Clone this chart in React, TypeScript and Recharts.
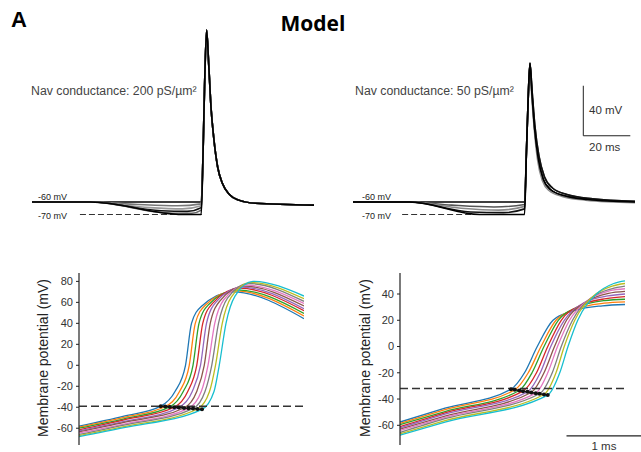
import { ComposedChart, Line, XAxis, YAxis, ReferenceLine } from 'recharts';

type Pt = [number, number];

// matplotlib default cycle, used for the ten phase-plot traces
const tab10 = ['#1f77b4', '#ff7f0e', '#2ca02c', '#d62728', '#9467bd', '#8c564b', '#e377c2', '#7f7f7f', '#bcbd22', '#17becf'];

// --- top panels: full APs (time in ms, voltage in mV) ---
const preLeft1: Pt[] = [[0, -60], [25, -60], [72, -60]];
const preLeft2: Pt[] = [[0, -60], [25, -60], [45, -62], [62, -63], [72, -61.5]];
const preLeft3: Pt[] = [[0, -60], [25, -60], [50, -64.5], [64, -65.5], [72, -63]];
const preLeft4: Pt[] = [[0, -60], [25, -60], [55, -67], [66, -67.5], [72, -64.5]];
const preLeft5: Pt[] = [[0, -60], [25, -60], [60, -69], [68, -69], [72, -66.5]];
const preLeft6: Pt[] = [[0, -60], [25, -60], [64, -70], [72, -70]];
const spikeLeft: Pt[] = [[72.8, -20], [73.4, 30], [74.3, 77.5], [75.2, 50], [76.2, 15], [77.3, -8], [79, -32], [81, -45], [84, -54], [88, -58.5], [95, -61], [120, -62.5]];

const preRight1: Pt[] = [[0, -60], [24, -60], [73, -60]];
const preRight2: Pt[] = [[0, -60], [24, -60], [42, -62.5], [60, -64], [73, -62]];
const preRight3: Pt[] = [[0, -60], [24, -60], [46, -65], [62, -66.5], [73, -63.5]];
const preRight4: Pt[] = [[0, -60], [24, -60], [50, -68], [64, -68.5], [73, -65.5]];
const preRight5: Pt[] = [[0, -60], [24, -60], [54, -70], [73, -70]];
const spikeRightA: Pt[] = [[73.8, -20], [74.5, 20], [75.3, 51], [76.1, 28], [77.2, 0], [78.8, -25], [81, -42], [84, -50], [90, -55], [100, -58], [120, -60]];
const spikeRightB: Pt[] = [[73.8, -20], [74.5, 20], [75.3, 51], [76.2, 29], [77.4, 1], [79.1, -23], [81.5, -40], [85, -49], [91, -54], [102, -57.5], [120, -59.5]];
const spikeRightC: Pt[] = [[73.8, -20], [74.5, 20], [75.3, 51], [76, 27], [77.1, -1], [78.6, -27], [80.6, -43], [83.5, -51], [89, -55.5], [99, -58.5], [120, -60.5]];

const restLine: Pt[] = [[20.4, -70], [72.3, -70]];
const restLineRight: Pt[] = [[20.9, -70], [72.3, -70]];
const scaleMv = 40;
const scaleMs = 20;
const scaleOrigin: Pt = [98, -7];

// --- bottom panels: zoom on AP onset, ten traces each ---
const lowL0: Pt[] = [[0, -58], [0.6, -48.5], [1.09, -39], [1.28, -25], [1.42, 0], [1.5, 40], [1.63, 56], [2.05, 70], [3, 44.5]];
const lowL1: Pt[] = [[0, -59], [0.6, -49.7], [1.15, -39.3], [1.34, -25], [1.47, 0], [1.55, 40], [1.68, 57], [2.08, 71], [3, 47]];
const lowL2: Pt[] = [[0, -60], [0.6, -51], [1.21, -39.7], [1.39, -25], [1.52, 0], [1.6, 40], [1.73, 58], [2.11, 72], [3, 49.5]];
const lowL3: Pt[] = [[0, -61.5], [0.6, -52], [1.27, -40], [1.45, -25], [1.57, 0], [1.65, 40], [1.78, 59], [2.14, 73.5], [3, 52]];
const lowL4: Pt[] = [[0, -62.5], [0.6, -53.5], [1.33, -40.3], [1.51, -25], [1.62, 0], [1.7, 40], [1.83, 60.5], [2.17, 74.5], [3, 54]];
const lowL5: Pt[] = [[0, -63.5], [0.6, -54.5], [1.4, -40.7], [1.57, -25], [1.67, 0], [1.75, 40], [1.88, 61.5], [2.2, 75.5], [3, 56.5]];
const lowL6: Pt[] = [[0, -64.5], [0.6, -56], [1.46, -41], [1.63, -25], [1.72, 0], [1.81, 40], [1.93, 62.5], [2.23, 76.5], [3, 59]];
const lowL7: Pt[] = [[0, -66], [0.6, -57], [1.52, -41.3], [1.68, -25], [1.77, 0], [1.86, 40], [1.98, 64], [2.26, 78], [3, 61]];
const lowL8: Pt[] = [[0, -67], [0.6, -58.5], [1.58, -41.7], [1.74, -25], [1.82, 0], [1.91, 40], [2.03, 65], [2.29, 79], [3, 63.5]];
const lowL9: Pt[] = [[0, -68], [0.6, -59.5], [1.64, -42], [1.8, -25], [1.87, 0], [1.96, 40], [2.08, 66], [2.32, 80], [3, 66]];

const lowR0: Pt[] = [[0, -57.5], [0.6, -47], [1.48, -32.5], [1.66, -20], [1.83, 0], [2.04, 20], [2.3, 27], [2.7, 31], [3, 32]];
const lowR1: Pt[] = [[0, -58.5], [0.6, -48], [1.53, -33], [1.71, -20], [1.88, 0], [2.08, 20], [2.34, 28.5], [2.72, 33], [3, 34]];
const lowR2: Pt[] = [[0, -59.5], [0.6, -49.5], [1.59, -33.5], [1.76, -20], [1.92, 0], [2.11, 20], [2.37, 30], [2.73, 35], [3, 36]];
const lowR3: Pt[] = [[0, -61], [0.6, -50.5], [1.64, -34], [1.82, -20], [1.97, 0], [2.15, 20], [2.41, 31.5], [2.75, 36.5], [3, 38]];
const lowR4: Pt[] = [[0, -62], [0.6, -51.5], [1.7, -34.5], [1.87, -20], [2.01, 0], [2.19, 20], [2.44, 33], [2.77, 38.5], [3, 40]];
const lowR5: Pt[] = [[0, -63], [0.6, -53], [1.75, -35], [1.92, -20], [2.06, 0], [2.22, 20], [2.48, 34], [2.78, 40.5], [3, 42]];
const lowR6: Pt[] = [[0, -64], [0.6, -54], [1.81, -35.5], [1.97, -20], [2.1, 0], [2.26, 20], [2.51, 35.5], [2.8, 42.5], [3, 44]];
const lowR7: Pt[] = [[0, -65.5], [0.6, -55], [1.86, -36], [2.03, -20], [2.15, 0], [2.3, 20], [2.55, 37], [2.82, 44], [3, 46]];
const lowR8: Pt[] = [[0, -66.5], [0.6, -56.5], [1.92, -36.5], [2.08, -20], [2.19, 0], [2.33, 20], [2.58, 38.5], [2.83, 46], [3, 48]];
const lowR9: Pt[] = [[0, -67.5], [0.6, -57.5], [1.97, -37], [2.13, -20], [2.24, 0], [2.37, 20], [2.62, 40], [2.85, 48], [3, 50]];

// threshold index into each onset trace (3rd point = threshold crossing)
const thresholdIdx = 2;
const thresholdLeft = -39;
const thresholdRight = -32;
const ticksLeft = [80, 60, 40, 20, 0, -20, -40, -60];
const ticksRight = [40, 20, 0, -20, -40, -60];
const msBar: Pt[] = [[2.22, -68], [3.22, -68]];

const toPts = (arr: Pt[]) => arr.map(([t, v]) => ({ t, v }));

const topLeftTraces = [
  { pts: [...preLeft1, ...spikeLeft], color: '#000' },
  { pts: [...preLeft2, ...spikeLeft], color: '#777' },
  { pts: [...preLeft3, ...spikeLeft], color: '#999' },
  { pts: [...preLeft4, ...spikeLeft], color: '#111' },
  { pts: [...preLeft5, ...spikeLeft], color: '#666' },
  { pts: [...preLeft6, ...spikeLeft], color: '#000' },
];
const topRightTraces = [
  { pts: [...preRight1, ...spikeRightA], color: '#000' },
  { pts: [...preRight2, ...spikeRightB], color: '#555' },
  { pts: [...preRight3, ...spikeRightC], color: '#888' },
  { pts: [...preRight4, ...spikeRightB], color: '#111' },
  { pts: [...preRight5, ...spikeRightA], color: '#000' },
];
const lowLeft = [lowL0, lowL1, lowL2, lowL3, lowL4, lowL5, lowL6, lowL7, lowL8, lowL9];
const lowRight = [lowR0, lowR1, lowR2, lowR3, lowR4, lowR5, lowR6, lowR7, lowR8, lowR9];

const seg = (a: Pt[]) => a.map(([x, y]) => ({ x, y }));

function TopPanel({ traces, left, width, marginLeft, rest }: { traces: { pts: Pt[]; color: string }[]; left: number; width: number; marginLeft: number; rest: Pt[] }) {
  const showBar = left > 0;
  return (
    <div style={{ position: 'absolute', left, top: 0 }}>
      <ComposedChart width={width} height={240} margin={{ top: 22, right: width - marginLeft - 282, bottom: 13, left: marginLeft }}>
        <XAxis type="number" dataKey="t" domain={[0, 120]} hide allowDataOverflow />
        <YAxis type="number" domain={[-80, 84]} hide allowDataOverflow />
        <ReferenceLine segment={seg(rest)} stroke="#333" strokeWidth={1.2} strokeDasharray="6 3" />
        {showBar && (
          <ReferenceLine segment={[{ x: scaleOrigin[0], y: scaleOrigin[1] }, { x: scaleOrigin[0], y: scaleOrigin[1] + scaleMv }]} stroke="#222" strokeWidth={1} />
        )}
        {showBar && (
          <ReferenceLine segment={[{ x: scaleOrigin[0], y: scaleOrigin[1] }, { x: scaleOrigin[0] + scaleMs, y: scaleOrigin[1] }]} stroke="#222" strokeWidth={1} />
        )}
        {traces.map((tr, i) => (
          <Line key={i} data={toPts(tr.pts)} dataKey="v" type="monotone" stroke={tr.color} strokeWidth={1.6} dot={false} isAnimationActive={false} />
        ))}
      </ComposedChart>
    </div>
  );
}

function LowPanel({ curves, left, width, domain, ticks, threshold, showBar }: { curves: Pt[][]; left: number; width: number; domain: [number, number]; ticks: number[]; threshold: number; showBar: boolean }) {
  const axisW = left === 0 ? 79 : 80;
  const dots = curves.map((c) => ({ t: c[thresholdIdx][0], v: c[thresholdIdx][1] }));
  return (
    <div style={{ position: 'absolute', left, top: 260 }}>
      <ComposedChart width={width} height={192} margin={{ top: 13, right: width - axisW - 225, bottom: 7, left: 0 }}>
        <XAxis type="number" dataKey="t" domain={[0, 3]} hide allowDataOverflow />
        <YAxis
          type="number"
          domain={domain}
          ticks={ticks}
          width={axisW}
          allowDataOverflow
          tickSize={3}
          tickMargin={3}
          axisLine={{ stroke: '#222', strokeWidth: 1.2 }}
          tickLine={{ stroke: '#222' }}
          tick={{ fill: '#333', fontSize: 11, fontFamily: '"Liberation Sans", Arial, sans-serif' }}
        />
        {curves.map((c, i) => (
          <Line key={i} data={toPts(c)} dataKey="v" type="monotone" stroke={tab10[i]} strokeWidth={1.3} dot={false} isAnimationActive={false} />
        ))}
        <ReferenceLine y={threshold} stroke="#333" strokeWidth={1.5} strokeDasharray="8 4" />
        <Line data={dots} dataKey="v" type="linear" stroke="#111" strokeWidth={1.5} dot={{ r: 2, fill: '#111', stroke: 'none' }} isAnimationActive={false} />
        {showBar && <ReferenceLine segment={seg(msBar)} ifOverflow="visible" stroke="#222" strokeWidth={1.2} />}
      </ComposedChart>
    </div>
  );
}

export default function App() {
  const font = '"Liberation Sans", Arial, sans-serif';
  return (
    <div style={{ position: 'absolute', left: 0, top: 0, width: 641, height: 452, background: '#fff', overflow: 'hidden', fontFamily: font }}>
      <TopPanel traces={topLeftTraces} left={0} width={320} marginLeft={32} rest={restLine} />
      <TopPanel traces={topRightTraces} left={320} width={321} marginLeft={33} rest={restLineRight} />
      <LowPanel curves={lowLeft} left={0} width={330} domain={[-76, 88]} ticks={ticksLeft} threshold={thresholdLeft} showBar={false} />
      <LowPanel curves={lowRight} left={320} width={321} domain={[-75, 56]} ticks={ticksRight} threshold={thresholdRight} showBar />
      <svg width={641} height={452} style={{ position: 'absolute', left: 0, top: 0, pointerEvents: 'none' }} fontFamily={font}>
        <text x={11} y={27} fontSize={22} fontWeight="bold" fill="#000">A</text>
        <text x={313} y={31} fontSize={21} fontWeight="bold" fill="#000" textAnchor="middle" fontFamily='"Open Sans", sans-serif'>Model</text>
        <text x={31} y={95} fontSize={12.3} fill="#444">Nav conductance: 200 pS/µm²</text>
        <text x={355} y={95} fontSize={12.3} fill="#444">Nav conductance: 50 pS/µm²</text>
        <text x={38} y={200} fontSize={9} fill="#222">-60 mV</text>
        <text x={38} y={218.5} fontSize={9} fill="#222">-70 mV</text>
        <text x={362} y={200} fontSize={9} fill="#222">-60 mV</text>
        <text x={362} y={218.5} fontSize={9} fill="#222">-70 mV</text>
        <text x={589} y={114} fontSize={11.5} fill="#333">40 mV</text>
        <text x={589} y={151} fontSize={11.5} fill="#333">20 ms</text>
        <text x={604} y={450} fontSize={11.5} fill="#333" textAnchor="middle">1 ms</text>
        <text x={48} y={358} fontSize={14} fill="#222" textAnchor="middle" transform="rotate(-90 48 358)">Membrane potential (mV)</text>
        <text x={370} y={358} fontSize={14} fill="#222" textAnchor="middle" transform="rotate(-90 370 358)">Membrane potential (mV)</text>
      </svg>
    </div>
  );
}
